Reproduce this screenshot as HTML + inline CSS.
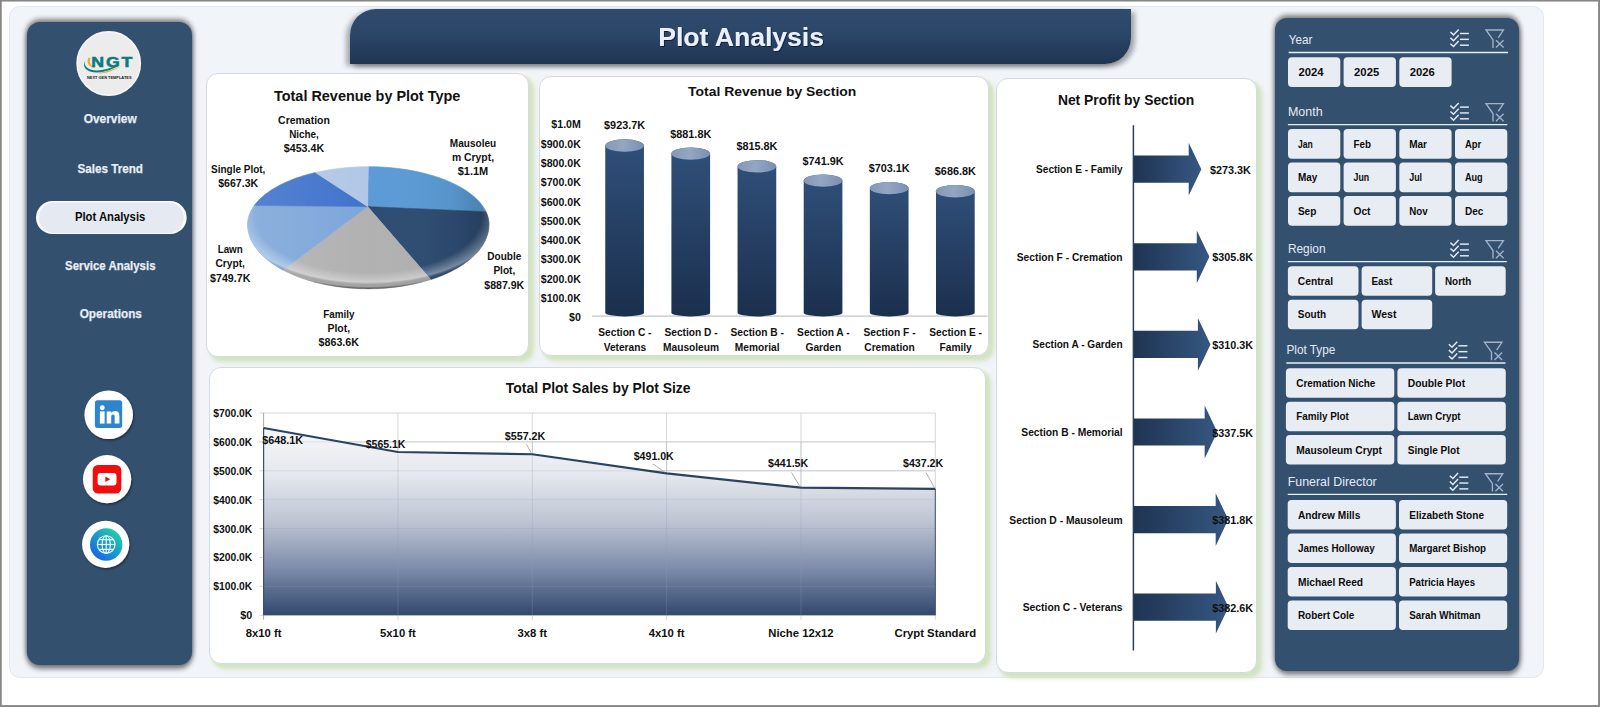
<!DOCTYPE html>
<html lang="en"><head><meta charset="utf-8"><title>Plot Analysis</title>
<style>
html,body{margin:0;padding:0;}
body{width:1600px;height:707px;position:relative;overflow:hidden;background:#fff;font-family:"Liberation Sans", sans-serif;}
div{position:absolute;box-sizing:border-box;}
#wrap{left:9px;top:6px;width:1534.6px;height:672px;background:#f1f4f9;border:1px solid #e3e7ee;border-radius:11px;}
#side{left:26.9px;top:22px;width:164.8px;height:643px;background:#34506f;border-radius:13px;box-shadow:0 4px 5px rgba(0,0,0,.42),0 0 7px rgba(0,0,0,.30),0 -3px 5px rgba(0,0,0,.36);}
#right{left:1275px;top:18.4px;width:244.1px;height:652.2px;background:#34506f;border-radius:12px;box-shadow:1px 4px 5px rgba(0,0,0,.40),0 0 7px rgba(0,0,0,.26),0 -3px 5px rgba(0,0,0,.40);}
#banner{left:349.8px;top:9px;width:781.4px;height:54.8px;border-radius:26px 0 26px 0;background:linear-gradient(#2f4b6e 0%,#2c4668 45%,#1e3452 100%);box-shadow:-4px 2px 5px rgba(0,0,0,.30),4px 3px 5px rgba(0,0,0,.32);}
.card{background:#fff;border:1px solid #d3dae6;border-radius:12px;box-shadow:3.5px 3.5px 3.5px 0px #d2e4bf,6px 6px 5px rgba(210,228,191,.45);}
#c1{left:206.3px;top:73.4px;width:323px;height:283.4px;}
#c2{left:538.8px;top:76.2px;width:449.8px;height:279.8px;}
#c3{left:996.2px;top:78.2px;width:260.6px;height:594.9px;}
#c4{left:209.4px;top:366.6px;width:776.2px;height:297px;}
svg{position:absolute;left:0;top:0;}
text{font-family:"Liberation Sans", sans-serif;}
</style></head>
<body>
<div id="wrap"></div>
<div id="side"></div>
<div id="right"></div>
<div id="banner"></div>
<div class="card" id="c1"></div>
<div class="card" id="c2"></div>
<div class="card" id="c3"></div>
<div class="card" id="c4"></div>
<svg width="1600" height="707" viewBox="0 0 1600 707">

<defs>
 <linearGradient id="gBar" x1="0" y1="0" x2="0" y2="1">
  <stop offset="0" stop-color="#30507a"/><stop offset="1" stop-color="#1b2f4d"/>
 </linearGradient>
 <linearGradient id="gBarTop" x1="0" y1="0" x2="1" y2="0">
  <stop offset="0" stop-color="#8398b6"/><stop offset="0.45" stop-color="#93a7c3"/><stop offset="1" stop-color="#7a90b0"/>
 </linearGradient>
 <linearGradient id="gArrow" x1="0" y1="0" x2="1" y2="0">
  <stop offset="0" stop-color="#1e3452"/><stop offset="1" stop-color="#365781"/>
 </linearGradient>
 <linearGradient id="gArea" gradientUnits="userSpaceOnUse" x1="0" y1="428" x2="0" y2="615.3">
  <stop offset="0" stop-color="#f6f7f9"/><stop offset="0.25" stop-color="#e5e8ee"/>
  <stop offset="0.5" stop-color="#bdc4d3"/><stop offset="0.75" stop-color="#7e8caa"/>
  <stop offset="1" stop-color="#31486d"/>
 </linearGradient>
 <linearGradient id="gPill" x1="0" y1="0" x2="0" y2="1">
  <stop offset="0" stop-color="#f4f6fa"/><stop offset="0.5" stop-color="#e8ecf3"/><stop offset="1" stop-color="#dde3ec"/>
 </linearGradient>
 <linearGradient id="gGlobe" x1="0.85" y1="0.1" x2="0.15" y2="0.9">
  <stop offset="0" stop-color="#22cfa4"/><stop offset="0.5" stop-color="#1a9ad0"/><stop offset="1" stop-color="#1766e2"/>
 </linearGradient>
 <radialGradient id="gPieRim" cx="0.5" cy="0.40" r="0.60" fx="0.5" fy="0.40">
  <stop offset="0" stop-color="#fff" stop-opacity="0"/>
  <stop offset="0.78" stop-color="#fff" stop-opacity="0"/>
  <stop offset="0.91" stop-color="#fff" stop-opacity="0.36"/>
  <stop offset="0.965" stop-color="#000" stop-opacity="0.06"/>
  <stop offset="1" stop-color="#000" stop-opacity="0.55"/>
 </radialGradient>
 <linearGradient id="gPieLR" x1="0" y1="0" x2="1" y2="0">
  <stop offset="0" stop-color="#fff" stop-opacity="0.12"/>
  <stop offset="0.5" stop-color="#fff" stop-opacity="0"/>
  <stop offset="0.85" stop-color="#000" stop-opacity="0.05"/>
  <stop offset="1" stop-color="#000" stop-opacity="0.20"/>
 </linearGradient>
 <filter id="fSoft" x="-30%" y="-30%" width="160%" height="160%">
  <feGaussianBlur stdDeviation="1.6"/>
 </filter>
 <filter id="fPill" x="-5%" y="-20%" width="110%" height="140%"><feGaussianBlur stdDeviation="0.7"/></filter>
 <filter id="fIcon" x="-30%" y="-30%" width="160%" height="160%">
  <feDropShadow dx="1" dy="1.5" stdDeviation="1.2" flood-color="#000" flood-opacity="0.45"/>
 </filter>
 <filter id="fTitle" x="-10%" y="-30%" width="120%" height="160%">
  <feDropShadow dx="0.8" dy="1" stdDeviation="0.7" flood-color="#0a1626" flood-opacity="0.9"/>
 </filter>
</defs>

<circle cx="108.7" cy="63.5" r="31.6" fill="#ececec" stroke="#f6f6f6" stroke-width="1.6"/>
<path d="M85.5 60.5 C83 66 88 70.5 97 70.5 C105 70.5 112 66.8 120 65.6 C113 68.6 106 72.6 97 72.6 C86 72.6 81.5 66.5 85.5 60.5 Z" fill="#0f7d80"/>
<path d="M88.8 57.5 C85.5 62.5 89 67.6 96 68 C91 66.6 88.3 62.5 90.6 58.2 Z" fill="#e9a93a"/>
<path d="M99 72.6 C107 72.3 113 68.5 121.5 66.2 C114 69.4 108 73.6 99 73.4 Z" fill="#e9a93a"/>
<text x="91.30" y="66.50" font-size="15.30" font-weight="bold" text-anchor="start" fill="#0f7a7c" textLength="43.00" lengthAdjust="spacingAndGlyphs" letter-spacing="1.6" stroke="#0f7a7c" stroke-width="0.55">NGT</text>
<text x="87.00" y="78.80" font-size="3.10" font-weight="bold" text-anchor="start" fill="#1a1a1a" textLength="44.50" lengthAdjust="spacingAndGlyphs" >NEXT GEN TEMPLATES</text>
<rect x="36" y="201.1" width="150.7" height="33" rx="16.5" fill="#fafbfd"/>
<rect x="39.0" y="202.5" width="144.7" height="30.6" rx="15.3" fill="#e4e9f2" filter="url(#fPill)"/>
<text x="83.70" y="123.30" font-size="12.80" font-weight="bold" text-anchor="start" fill="#e7edf5" textLength="53.00" lengthAdjust="spacingAndGlyphs" stroke="#e7edf5" stroke-width="0.25">Overview</text>
<text x="77.50" y="172.80" font-size="12.80" font-weight="bold" text-anchor="start" fill="#e7edf5" textLength="65.50" lengthAdjust="spacingAndGlyphs" stroke="#e7edf5" stroke-width="0.25">Sales Trend</text>
<text x="74.90" y="220.80" font-size="12.80" font-weight="bold" text-anchor="start" fill="#0a0a0a" textLength="70.40" lengthAdjust="spacingAndGlyphs" >Plot Analysis</text>
<text x="65.00" y="269.70" font-size="12.80" font-weight="bold" text-anchor="start" fill="#e7edf5" textLength="90.50" lengthAdjust="spacingAndGlyphs" stroke="#e7edf5" stroke-width="0.25">Service Analysis</text>
<text x="79.70" y="318.20" font-size="12.80" font-weight="bold" text-anchor="start" fill="#e7edf5" textLength="62.20" lengthAdjust="spacingAndGlyphs" stroke="#e7edf5" stroke-width="0.25">Operations</text>
<circle cx="108.7" cy="414.7" r="24.3" fill="#fff" filter="url(#fIcon)"/>
<rect x="94.9" y="400.3" width="27.3" height="27.6" rx="2.6" fill="#2d86cd"/>
<circle cx="102.25" cy="407.8" r="2.45" fill="#fff"/>
<rect x="99.9" y="411.4" width="4.7" height="12.2" fill="#fff"/>
<path d="M106.7 411.4 h4.5 v1.7 c0.9 -1.4 2.3 -2.1 4 -2.1 c2.9 0 4.2 1.8 4.2 5 v7.6 h-4.7 v-6.7 c0 -1.5 -0.5 -2.3 -1.7 -2.3 c-1.2 0 -1.8 0.9 -1.8 2.3 v6.7 h-4.5 z" fill="#fff"/>
<circle cx="107.1" cy="479.2" r="24.1" fill="#fff" filter="url(#fIcon)"/>
<rect x="92.7" y="465" width="28.6" height="28.4" rx="5.2" fill="#f20c0c"/>
<rect x="97.6" y="473" width="18.9" height="12.4" rx="3.2" fill="#fff"/>
<path d="M105.3 476.4 L110.2 479.2 L105.3 482 Z" fill="#e01010"/>
<circle cx="105.7" cy="544.3" r="23.6" fill="#fff" filter="url(#fIcon)"/>
<circle cx="106.2" cy="544.5" r="16.2" fill="url(#gGlobe)"/>
<g fill="none" stroke="#e9fbff" stroke-width="1.15"><circle cx="106.2" cy="544.5" r="8.8"/><ellipse cx="106.2" cy="544.5" rx="4.1" ry="8.8"/><line x1="106.2" y1="535.7" x2="106.2" y2="553.3"/><line x1="97.4" y1="544.5" x2="115" y2="544.5"/><path d="M99.0 539.6 H113.4 M99.0 549.4 H113.4"/></g>
<text x="658.20" y="46.30" font-size="26.40" font-weight="bold" text-anchor="start" fill="#e9f0fb" textLength="165.80" lengthAdjust="spacingAndGlyphs" filter="url(#fTitle)">Plot Analysis</text>
<text x="274.00" y="100.80" font-size="13.80" font-weight="bold" text-anchor="start" fill="#111" textLength="186.30" lengthAdjust="spacingAndGlyphs" >Total Revenue by Plot Type</text>
<g>
<path d="M367.60 206.60 L368.30 166.70 L372.58 166.74 L376.85 166.85 L381.12 167.03 L385.36 167.28 L389.59 167.61 L393.79 168.00 L397.95 168.47 L402.08 169.01 L406.17 169.62 L410.21 170.30 L414.19 171.04 L418.12 171.85 L421.99 172.73 L425.79 173.68 L429.51 174.68 L433.16 175.75 L436.73 176.89 L440.21 178.08 L443.60 179.33 L446.90 180.63 L450.10 182.00 L453.19 183.41 L456.18 184.88 L459.06 186.40 L461.82 187.96 L464.47 189.57 L466.99 191.23 L469.39 192.92 L471.67 194.66 L473.81 196.43 L475.82 198.24 L477.70 200.08 L479.44 201.95 L481.04 203.86 L482.50 205.78 L483.81 207.73 L484.98 209.70 L486.00 211.69 Z" fill="#5b9bd6" stroke="#5b9bd6" stroke-width="0.6" stroke-linejoin="round"/>
<path d="M367.60 206.60 L486.00 211.69 L486.88 213.71 L487.61 215.75 L488.18 217.79 L488.61 219.85 L488.88 221.91 L488.99 223.97 L488.96 226.21 L488.77 228.51 L488.42 230.80 L487.92 233.08 L487.27 235.35 L486.47 237.61 L485.52 239.86 L484.42 242.08 L483.17 244.28 L481.77 246.45 L480.23 248.60 L478.55 250.72 L476.72 252.80 L474.76 254.85 L472.66 256.86 L470.43 258.82 L468.07 260.75 L465.58 262.62 L462.97 264.45 L460.23 266.23 L457.38 267.95 L454.42 269.62 L451.35 271.23 L448.17 272.79 L444.88 274.28 L441.51 275.70 L438.03 277.06 L434.47 278.36 L430.83 279.59 Z" fill="#2e4c72" stroke="#2e4c72" stroke-width="0.6" stroke-linejoin="round"/>
<path d="M367.60 206.60 L430.83 279.59 L427.17 280.72 L423.45 281.78 L419.66 282.78 L415.81 283.70 L411.90 284.55 L407.93 285.33 L403.92 286.03 L399.86 286.66 L395.76 287.21 L391.64 287.68 L387.48 288.08 L383.30 288.40 L379.10 288.64 L374.88 288.80 L370.66 288.89 L366.44 288.89 L362.22 288.82 L358.00 288.67 L353.80 288.43 L349.62 288.12 L345.45 287.74 L341.32 287.27 L337.22 286.73 L333.16 286.11 L329.14 285.42 L325.17 284.65 L321.25 283.81 L317.39 282.89 L313.59 281.90 L309.86 280.85 L306.20 279.72 L302.62 278.53 L299.11 277.27 L295.70 275.95 L292.37 274.56 L289.13 273.11 L285.99 271.60 L282.95 270.04 Z" fill="#b1b1b1" stroke="#b1b1b1" stroke-width="0.6" stroke-linejoin="round"/>
<path d="M367.60 206.60 L282.95 270.04 L280.02 268.42 L277.19 266.74 L274.47 265.01 L271.87 263.23 L269.39 261.41 L267.03 259.54 L264.79 257.63 L262.68 255.67 L260.70 253.68 L258.85 251.65 L257.14 249.59 L255.56 247.50 L254.12 245.38 L252.82 243.23 L251.66 241.07 L250.65 238.88 L249.78 236.67 L249.05 234.45 L248.47 232.22 L248.04 229.97 L247.75 227.72 L247.61 225.47 L247.62 223.35 L247.78 221.32 L248.09 219.31 L248.54 217.29 L249.14 215.29 L249.89 213.30 L250.78 211.32 L251.82 209.36 L252.99 207.41 L254.31 205.49 Z" fill="#7da6d9" stroke="#7da6d9" stroke-width="0.6" stroke-linejoin="round"/>
<path d="M367.60 206.60 L254.31 205.49 L255.80 203.56 L257.42 201.66 L259.19 199.79 L261.09 197.95 L263.13 196.14 L265.30 194.37 L267.60 192.64 L270.03 190.94 L272.58 189.29 L275.25 187.69 L278.04 186.13 L280.95 184.61 L283.96 183.15 L287.08 181.74 L290.31 180.39 L293.63 179.09 L297.04 177.85 L300.55 176.66 L304.14 175.54 L307.82 174.48 L311.57 173.48 L315.39 172.55 Z" fill="#4073cb" stroke="#4073cb" stroke-width="0.6" stroke-linejoin="round"/>
<path d="M367.60 206.60 L315.39 172.55 L319.21 171.70 L323.08 170.91 L327.02 170.19 L331.00 169.53 L335.03 168.94 L339.10 168.42 L343.21 167.96 L347.34 167.58 L351.50 167.26 L355.68 167.02 L359.88 166.84 L364.09 166.74 L368.30 166.70 Z" fill="#b2c7e6" stroke="#b2c7e6" stroke-width="0.6" stroke-linejoin="round"/>
<path d="M368.30 166.70 L372.51 166.74 L376.72 166.84 L380.92 167.02 L385.10 167.26 L389.26 167.58 L393.39 167.96 L397.50 168.42 L401.57 168.94 L405.60 169.53 L409.58 170.19 L413.52 170.91 L417.39 171.70 L421.21 172.55 L424.97 173.47 L428.65 174.44 L432.26 175.48 L435.79 176.58 L439.25 177.74 L442.61 178.95 L445.88 180.22 L449.06 181.55 L452.15 182.92 L455.12 184.35 L458.00 185.82 L460.76 187.35 L463.41 188.91 L465.95 190.53 L468.36 192.18 L470.66 193.87 L472.83 195.60 L474.87 197.36 L476.78 199.16 L478.56 200.99 L480.21 202.85 L481.72 204.73 L483.09 206.64 L484.32 208.57 L485.41 210.52 L486.36 212.48 L487.17 214.46 L487.83 216.46 L488.34 218.46 L488.71 220.47 L488.93 222.48 L489.00 224.50 L488.93 226.75 L488.71 228.99 L488.34 231.23 L487.83 233.46 L487.17 235.68 L486.36 237.89 L485.41 240.08 L484.32 242.25 L483.09 244.40 L481.72 246.53 L480.21 248.62 L478.56 250.69 L476.78 252.73 L474.87 254.73 L472.83 256.70 L470.66 258.63 L468.36 260.51 L465.95 262.35 L463.41 264.15 L460.76 265.90 L458.00 267.59 L455.12 269.24 L452.15 270.83 L449.06 272.36 L445.88 273.83 L442.61 275.25 L439.25 276.60 L435.79 277.89 L432.26 279.11 L428.65 280.27 L424.97 281.36 L421.21 282.38 L417.39 283.33 L413.52 284.21 L409.58 285.02 L405.60 285.75 L401.57 286.41 L397.50 286.99 L393.39 287.49 L389.26 287.92 L385.10 288.27 L380.92 288.55 L376.72 288.74 L372.51 288.86 L368.30 288.90 L364.09 288.86 L359.88 288.74 L355.68 288.55 L351.50 288.27 L347.34 287.92 L343.21 287.49 L339.10 286.99 L335.03 286.41 L331.00 285.75 L327.02 285.02 L323.08 284.21 L319.21 283.33 L315.39 282.38 L311.63 281.36 L307.95 280.27 L304.34 279.11 L300.81 277.89 L297.35 276.60 L293.99 275.25 L290.72 273.83 L287.54 272.36 L284.45 270.83 L281.48 269.24 L278.60 267.59 L275.84 265.90 L273.19 264.15 L270.65 262.35 L268.24 260.51 L265.94 258.63 L263.77 256.70 L261.73 254.73 L259.82 252.73 L258.04 250.69 L256.39 248.62 L254.88 246.53 L253.51 244.40 L252.28 242.25 L251.19 240.08 L250.24 237.89 L249.43 235.68 L248.77 233.46 L248.26 231.23 L247.89 228.99 L247.67 226.75 L247.60 224.50 L247.67 222.48 L247.89 220.47 L248.26 218.46 L248.77 216.46 L249.43 214.46 L250.24 212.48 L251.19 210.52 L252.28 208.57 L253.51 206.64 L254.88 204.73 L256.39 202.85 L258.04 200.99 L259.82 199.16 L261.73 197.36 L263.77 195.60 L265.94 193.87 L268.24 192.18 L270.65 190.53 L273.19 188.91 L275.84 187.35 L278.60 185.82 L281.48 184.35 L284.45 182.92 L287.54 181.55 L290.72 180.22 L293.99 178.95 L297.35 177.74 L300.81 176.58 L304.34 175.48 L307.95 174.44 L311.63 173.47 L315.39 172.55 L319.21 171.70 L323.08 170.91 L327.02 170.19 L331.00 169.53 L335.03 168.94 L339.10 168.42 L343.21 167.96 L347.34 167.58 L351.50 167.26 L355.68 167.02 L359.88 166.84 L364.09 166.74 L368.30 166.70 Z" fill="url(#gPieLR)"/>
<path d="M368.30 166.70 L372.51 166.74 L376.72 166.84 L380.92 167.02 L385.10 167.26 L389.26 167.58 L393.39 167.96 L397.50 168.42 L401.57 168.94 L405.60 169.53 L409.58 170.19 L413.52 170.91 L417.39 171.70 L421.21 172.55 L424.97 173.47 L428.65 174.44 L432.26 175.48 L435.79 176.58 L439.25 177.74 L442.61 178.95 L445.88 180.22 L449.06 181.55 L452.15 182.92 L455.12 184.35 L458.00 185.82 L460.76 187.35 L463.41 188.91 L465.95 190.53 L468.36 192.18 L470.66 193.87 L472.83 195.60 L474.87 197.36 L476.78 199.16 L478.56 200.99 L480.21 202.85 L481.72 204.73 L483.09 206.64 L484.32 208.57 L485.41 210.52 L486.36 212.48 L487.17 214.46 L487.83 216.46 L488.34 218.46 L488.71 220.47 L488.93 222.48 L489.00 224.50 L488.93 226.75 L488.71 228.99 L488.34 231.23 L487.83 233.46 L487.17 235.68 L486.36 237.89 L485.41 240.08 L484.32 242.25 L483.09 244.40 L481.72 246.53 L480.21 248.62 L478.56 250.69 L476.78 252.73 L474.87 254.73 L472.83 256.70 L470.66 258.63 L468.36 260.51 L465.95 262.35 L463.41 264.15 L460.76 265.90 L458.00 267.59 L455.12 269.24 L452.15 270.83 L449.06 272.36 L445.88 273.83 L442.61 275.25 L439.25 276.60 L435.79 277.89 L432.26 279.11 L428.65 280.27 L424.97 281.36 L421.21 282.38 L417.39 283.33 L413.52 284.21 L409.58 285.02 L405.60 285.75 L401.57 286.41 L397.50 286.99 L393.39 287.49 L389.26 287.92 L385.10 288.27 L380.92 288.55 L376.72 288.74 L372.51 288.86 L368.30 288.90 L364.09 288.86 L359.88 288.74 L355.68 288.55 L351.50 288.27 L347.34 287.92 L343.21 287.49 L339.10 286.99 L335.03 286.41 L331.00 285.75 L327.02 285.02 L323.08 284.21 L319.21 283.33 L315.39 282.38 L311.63 281.36 L307.95 280.27 L304.34 279.11 L300.81 277.89 L297.35 276.60 L293.99 275.25 L290.72 273.83 L287.54 272.36 L284.45 270.83 L281.48 269.24 L278.60 267.59 L275.84 265.90 L273.19 264.15 L270.65 262.35 L268.24 260.51 L265.94 258.63 L263.77 256.70 L261.73 254.73 L259.82 252.73 L258.04 250.69 L256.39 248.62 L254.88 246.53 L253.51 244.40 L252.28 242.25 L251.19 240.08 L250.24 237.89 L249.43 235.68 L248.77 233.46 L248.26 231.23 L247.89 228.99 L247.67 226.75 L247.60 224.50 L247.67 222.48 L247.89 220.47 L248.26 218.46 L248.77 216.46 L249.43 214.46 L250.24 212.48 L251.19 210.52 L252.28 208.57 L253.51 206.64 L254.88 204.73 L256.39 202.85 L258.04 200.99 L259.82 199.16 L261.73 197.36 L263.77 195.60 L265.94 193.87 L268.24 192.18 L270.65 190.53 L273.19 188.91 L275.84 187.35 L278.60 185.82 L281.48 184.35 L284.45 182.92 L287.54 181.55 L290.72 180.22 L293.99 178.95 L297.35 177.74 L300.81 176.58 L304.34 175.48 L307.95 174.44 L311.63 173.47 L315.39 172.55 L319.21 171.70 L323.08 170.91 L327.02 170.19 L331.00 169.53 L335.03 168.94 L339.10 168.42 L343.21 167.96 L347.34 167.58 L351.50 167.26 L355.68 167.02 L359.88 166.84 L364.09 166.74 L368.30 166.70 Z" fill="url(#gPieRim)"/>
</g>
<text x="278.10" y="124.20" font-size="10.70" font-weight="bold" text-anchor="start" fill="#111" textLength="51.80" lengthAdjust="spacingAndGlyphs" >Cremation</text>
<text x="289.15" y="138.40" font-size="10.70" font-weight="bold" text-anchor="start" fill="#111" textLength="29.70" lengthAdjust="spacingAndGlyphs" >Niche,</text>
<text x="283.80" y="152.40" font-size="10.70" font-weight="bold" text-anchor="start" fill="#111" textLength="40.40" lengthAdjust="spacingAndGlyphs" >$453.4K</text>
<text x="211.00" y="173.00" font-size="10.70" font-weight="bold" text-anchor="start" fill="#111" textLength="54.40" lengthAdjust="spacingAndGlyphs" >Single Plot,</text>
<text x="218.25" y="186.90" font-size="10.70" font-weight="bold" text-anchor="start" fill="#111" textLength="39.90" lengthAdjust="spacingAndGlyphs" >$667.3K</text>
<text x="449.85" y="146.50" font-size="10.70" font-weight="bold" text-anchor="start" fill="#111" textLength="46.30" lengthAdjust="spacingAndGlyphs" >Mausoleu</text>
<text x="451.95" y="161.00" font-size="10.70" font-weight="bold" text-anchor="start" fill="#111" textLength="42.10" lengthAdjust="spacingAndGlyphs" >m Crypt,</text>
<text x="457.70" y="175.20" font-size="10.70" font-weight="bold" text-anchor="start" fill="#111" textLength="30.60" lengthAdjust="spacingAndGlyphs" >$1.1M</text>
<text x="217.65" y="253.00" font-size="10.70" font-weight="bold" text-anchor="start" fill="#111" textLength="25.10" lengthAdjust="spacingAndGlyphs" >Lawn</text>
<text x="215.45" y="267.20" font-size="10.70" font-weight="bold" text-anchor="start" fill="#111" textLength="29.50" lengthAdjust="spacingAndGlyphs" >Crypt,</text>
<text x="210.00" y="281.60" font-size="10.70" font-weight="bold" text-anchor="start" fill="#111" textLength="40.40" lengthAdjust="spacingAndGlyphs" >$749.7K</text>
<text x="487.30" y="260.20" font-size="10.70" font-weight="bold" text-anchor="start" fill="#111" textLength="34.00" lengthAdjust="spacingAndGlyphs" >Double</text>
<text x="493.40" y="274.20" font-size="10.70" font-weight="bold" text-anchor="start" fill="#111" textLength="21.80" lengthAdjust="spacingAndGlyphs" >Plot,</text>
<text x="484.35" y="288.60" font-size="10.70" font-weight="bold" text-anchor="start" fill="#111" textLength="39.90" lengthAdjust="spacingAndGlyphs" >$887.9K</text>
<text x="323.20" y="317.50" font-size="10.70" font-weight="bold" text-anchor="start" fill="#111" textLength="31.20" lengthAdjust="spacingAndGlyphs" >Family</text>
<text x="327.50" y="331.60" font-size="10.70" font-weight="bold" text-anchor="start" fill="#111" textLength="22.60" lengthAdjust="spacingAndGlyphs" >Plot,</text>
<text x="318.60" y="346.00" font-size="10.70" font-weight="bold" text-anchor="start" fill="#111" textLength="40.40" lengthAdjust="spacingAndGlyphs" >$863.6K</text>
<text x="688.10" y="96.30" font-size="13.60" font-weight="bold" text-anchor="start" fill="#111" textLength="168.20" lengthAdjust="spacingAndGlyphs" >Total Revenue  by Section</text>
<text x="580.80" y="128.30" font-size="10.60" font-weight="bold" text-anchor="end" fill="#111" >$1.0M</text>
<text x="580.80" y="147.60" font-size="10.60" font-weight="bold" text-anchor="end" fill="#111" >$900.0K</text>
<text x="580.80" y="166.90" font-size="10.60" font-weight="bold" text-anchor="end" fill="#111" >$800.0K</text>
<text x="580.80" y="186.20" font-size="10.60" font-weight="bold" text-anchor="end" fill="#111" >$700.0K</text>
<text x="580.80" y="205.50" font-size="10.60" font-weight="bold" text-anchor="end" fill="#111" >$600.0K</text>
<text x="580.80" y="224.80" font-size="10.60" font-weight="bold" text-anchor="end" fill="#111" >$500.0K</text>
<text x="580.80" y="244.10" font-size="10.60" font-weight="bold" text-anchor="end" fill="#111" >$400.0K</text>
<text x="580.80" y="263.40" font-size="10.60" font-weight="bold" text-anchor="end" fill="#111" >$300.0K</text>
<text x="580.80" y="282.70" font-size="10.60" font-weight="bold" text-anchor="end" fill="#111" >$200.0K</text>
<text x="580.80" y="302.00" font-size="10.60" font-weight="bold" text-anchor="end" fill="#111" >$100.0K</text>
<text x="580.80" y="321.30" font-size="10.60" font-weight="bold" text-anchor="end" fill="#111" >$0</text>
<line x1="592.00" y1="316.20" x2="987.60" y2="316.20" stroke="#c4c4c4" stroke-width="1.20" />
<path d="M605.25 145.53 L605.25 312.80 A19.35 3.60 0 0 0 643.95 312.80 L643.95 145.53 A19.35 6.20 0 0 0 605.25 145.53 Z" fill="url(#gBar)"/>
<ellipse cx="624.60" cy="145.53" rx="19.35" ry="6.20" fill="url(#gBarTop)"/>
<text x="624.60" y="129.43" font-size="10.85" font-weight="bold" text-anchor="middle" fill="#111" >$923.7K</text>
<text x="624.90" y="336.00" font-size="10.20" font-weight="bold" text-anchor="middle" fill="#111" >Section C -</text>
<text x="624.90" y="351.30" font-size="10.20" font-weight="bold" text-anchor="middle" fill="#111" >Veterans</text>
<path d="M671.40 153.61 L671.40 312.80 A19.35 3.60 0 0 0 710.10 312.80 L710.10 153.61 A19.35 6.20 0 0 0 671.40 153.61 Z" fill="url(#gBar)"/>
<ellipse cx="690.75" cy="153.61" rx="19.35" ry="6.20" fill="url(#gBarTop)"/>
<text x="690.75" y="137.51" font-size="10.85" font-weight="bold" text-anchor="middle" fill="#111" >$881.8K</text>
<text x="691.05" y="336.00" font-size="10.20" font-weight="bold" text-anchor="middle" fill="#111" >Section D -</text>
<text x="691.05" y="351.30" font-size="10.20" font-weight="bold" text-anchor="middle" fill="#111" >Mausoleum</text>
<path d="M737.55 166.35 L737.55 312.80 A19.35 3.60 0 0 0 776.25 312.80 L776.25 166.35 A19.35 6.20 0 0 0 737.55 166.35 Z" fill="url(#gBar)"/>
<ellipse cx="756.90" cy="166.35" rx="19.35" ry="6.20" fill="url(#gBarTop)"/>
<text x="756.90" y="150.25" font-size="10.85" font-weight="bold" text-anchor="middle" fill="#111" >$815.8K</text>
<text x="757.20" y="336.00" font-size="10.20" font-weight="bold" text-anchor="middle" fill="#111" >Section B -</text>
<text x="757.20" y="351.30" font-size="10.20" font-weight="bold" text-anchor="middle" fill="#111" >Memorial</text>
<path d="M803.70 180.61 L803.70 312.80 A19.35 3.60 0 0 0 842.40 312.80 L842.40 180.61 A19.35 6.20 0 0 0 803.70 180.61 Z" fill="url(#gBar)"/>
<ellipse cx="823.05" cy="180.61" rx="19.35" ry="6.20" fill="url(#gBarTop)"/>
<text x="823.05" y="164.51" font-size="10.85" font-weight="bold" text-anchor="middle" fill="#111" >$741.9K</text>
<text x="823.35" y="336.00" font-size="10.20" font-weight="bold" text-anchor="middle" fill="#111" >Section A -</text>
<text x="823.35" y="351.30" font-size="10.20" font-weight="bold" text-anchor="middle" fill="#111" >Garden</text>
<path d="M869.85 188.10 L869.85 312.80 A19.35 3.60 0 0 0 908.55 312.80 L908.55 188.10 A19.35 6.20 0 0 0 869.85 188.10 Z" fill="url(#gBar)"/>
<ellipse cx="889.20" cy="188.10" rx="19.35" ry="6.20" fill="url(#gBarTop)"/>
<text x="889.20" y="172.00" font-size="10.85" font-weight="bold" text-anchor="middle" fill="#111" >$703.1K</text>
<text x="889.50" y="336.00" font-size="10.20" font-weight="bold" text-anchor="middle" fill="#111" >Section F -</text>
<text x="889.50" y="351.30" font-size="10.20" font-weight="bold" text-anchor="middle" fill="#111" >Cremation</text>
<path d="M936.00 191.25 L936.00 312.80 A19.35 3.60 0 0 0 974.70 312.80 L974.70 191.25 A19.35 6.20 0 0 0 936.00 191.25 Z" fill="url(#gBar)"/>
<ellipse cx="955.35" cy="191.25" rx="19.35" ry="6.20" fill="url(#gBarTop)"/>
<text x="955.35" y="175.15" font-size="10.85" font-weight="bold" text-anchor="middle" fill="#111" >$686.8K</text>
<text x="955.65" y="336.00" font-size="10.20" font-weight="bold" text-anchor="middle" fill="#111" >Section E -</text>
<text x="955.65" y="351.30" font-size="10.20" font-weight="bold" text-anchor="middle" fill="#111" >Family</text>
<text x="1057.90" y="104.70" font-size="13.80" font-weight="bold" text-anchor="start" fill="#111" textLength="136.30" lengthAdjust="spacingAndGlyphs" >Net Profit by Section</text>
<path d="M1133.40 155.60 L1188.72 155.60 L1188.72 142.80 L1201.32 169.20 L1188.72 195.60 L1188.72 182.80 L1133.40 182.80 Z" fill="url(#gArrow)"/>
<text x="1036.10" y="173.10" font-size="10.30" font-weight="bold" text-anchor="start" fill="#111" textLength="86.50" lengthAdjust="spacingAndGlyphs" >Section E - Family</text>
<text x="1210.00" y="173.80" font-size="10.80" font-weight="bold" text-anchor="start" fill="#111" >$273.3K</text>
<path d="M1133.40 243.20 L1196.79 243.20 L1196.79 230.40 L1209.39 256.80 L1196.79 283.20 L1196.79 270.40 L1133.40 270.40 Z" fill="url(#gArrow)"/>
<text x="1016.80" y="260.70" font-size="10.30" font-weight="bold" text-anchor="start" fill="#111" textLength="105.80" lengthAdjust="spacingAndGlyphs" >Section F - Cremation</text>
<text x="1212.20" y="261.40" font-size="10.80" font-weight="bold" text-anchor="start" fill="#111" >$305.8K</text>
<path d="M1133.40 330.80 L1197.91 330.80 L1197.91 318.00 L1210.51 344.40 L1197.91 370.80 L1197.91 358.00 L1133.40 358.00 Z" fill="url(#gArrow)"/>
<text x="1032.60" y="348.30" font-size="10.30" font-weight="bold" text-anchor="start" fill="#111" textLength="90.00" lengthAdjust="spacingAndGlyphs" >Section A - Garden</text>
<text x="1212.20" y="349.00" font-size="10.80" font-weight="bold" text-anchor="start" fill="#111" >$310.3K</text>
<path d="M1133.40 418.40 L1204.67 418.40 L1204.67 405.60 L1217.27 432.00 L1204.67 458.40 L1204.67 445.60 L1133.40 445.60 Z" fill="url(#gArrow)"/>
<text x="1021.30" y="435.90" font-size="10.30" font-weight="bold" text-anchor="start" fill="#111" textLength="101.30" lengthAdjust="spacingAndGlyphs" >Section B - Memorial</text>
<text x="1212.20" y="436.60" font-size="10.80" font-weight="bold" text-anchor="start" fill="#111" >$337.5K</text>
<path d="M1133.40 506.00 L1215.68 506.00 L1215.68 493.20 L1228.28 519.60 L1215.68 546.00 L1215.68 533.20 L1133.40 533.20 Z" fill="url(#gArrow)"/>
<text x="1009.30" y="523.50" font-size="10.30" font-weight="bold" text-anchor="start" fill="#111" textLength="113.30" lengthAdjust="spacingAndGlyphs" >Section D - Mausoleum</text>
<text x="1212.20" y="524.20" font-size="10.80" font-weight="bold" text-anchor="start" fill="#111" >$381.8K</text>
<path d="M1133.40 593.60 L1215.88 593.60 L1215.88 580.80 L1228.48 607.20 L1215.88 633.60 L1215.88 620.80 L1133.40 620.80 Z" fill="url(#gArrow)"/>
<text x="1022.70" y="611.10" font-size="10.30" font-weight="bold" text-anchor="start" fill="#111" textLength="99.90" lengthAdjust="spacingAndGlyphs" >Section C - Veterans</text>
<text x="1212.20" y="611.80" font-size="10.80" font-weight="bold" text-anchor="start" fill="#111" >$382.6K</text>
<line x1="1133.40" y1="125.30" x2="1133.40" y2="650.50" stroke="#2a3f5c" stroke-width="1.50" />
<text x="505.80" y="392.70" font-size="13.80" font-weight="bold" text-anchor="start" fill="#111" textLength="184.80" lengthAdjust="spacingAndGlyphs" >Total Plot Sales by Plot Size</text>
<line x1="259.40" y1="615.30" x2="935.30" y2="615.30" stroke="#d6d6d6" stroke-width="1.00" />
<line x1="259.40" y1="586.40" x2="935.30" y2="586.40" stroke="#d6d6d6" stroke-width="1.00" />
<line x1="259.40" y1="557.50" x2="935.30" y2="557.50" stroke="#d6d6d6" stroke-width="1.00" />
<line x1="259.40" y1="528.60" x2="935.30" y2="528.60" stroke="#d6d6d6" stroke-width="1.00" />
<line x1="259.40" y1="499.70" x2="935.30" y2="499.70" stroke="#d6d6d6" stroke-width="1.00" />
<line x1="259.40" y1="470.80" x2="935.30" y2="470.80" stroke="#d6d6d6" stroke-width="1.00" />
<line x1="259.40" y1="441.90" x2="935.30" y2="441.90" stroke="#d6d6d6" stroke-width="1.00" />
<line x1="259.40" y1="413.00" x2="935.30" y2="413.00" stroke="#d6d6d6" stroke-width="1.00" />
<line x1="263.60" y1="413.00" x2="263.60" y2="619.70" stroke="#a8a8a8" stroke-width="1.00" />
<line x1="397.94" y1="413.00" x2="397.94" y2="619.70" stroke="#d6d6d6" stroke-width="1.00" />
<line x1="532.28" y1="413.00" x2="532.28" y2="619.70" stroke="#d6d6d6" stroke-width="1.00" />
<line x1="666.62" y1="413.00" x2="666.62" y2="619.70" stroke="#d6d6d6" stroke-width="1.00" />
<line x1="800.96" y1="413.00" x2="800.96" y2="619.70" stroke="#d6d6d6" stroke-width="1.00" />
<line x1="935.30" y1="413.00" x2="935.30" y2="619.70" stroke="#d6d6d6" stroke-width="1.00" />
<path d="M263.60 428.00 L397.94 451.99 L532.28 454.27 L666.62 473.40 L800.96 487.71 L935.30 488.95 L935.30 615.30 L263.60 615.30 Z" fill="url(#gArea)"/>
<line x1="263.60" y1="586.40" x2="935.30" y2="586.40" stroke="#8f9bb3" stroke-width="0.80" opacity="0.28"/>
<line x1="263.60" y1="557.50" x2="935.30" y2="557.50" stroke="#8f9bb3" stroke-width="0.80" opacity="0.28"/>
<line x1="263.60" y1="528.60" x2="935.30" y2="528.60" stroke="#8f9bb3" stroke-width="0.80" opacity="0.28"/>
<line x1="263.60" y1="499.70" x2="935.30" y2="499.70" stroke="#8f9bb3" stroke-width="0.80" opacity="0.28"/>
<line x1="263.60" y1="470.80" x2="935.30" y2="470.80" stroke="#8f9bb3" stroke-width="0.80" opacity="0.28"/>
<line x1="263.60" y1="441.90" x2="935.30" y2="441.90" stroke="#8f9bb3" stroke-width="0.80" opacity="0.28"/>
<line x1="397.94" y1="441.90" x2="397.94" y2="615.30" stroke="#8f9bb3" stroke-width="0.80" opacity="0.35"/>
<line x1="532.28" y1="441.90" x2="532.28" y2="615.30" stroke="#8f9bb3" stroke-width="0.80" opacity="0.35"/>
<line x1="666.62" y1="441.90" x2="666.62" y2="615.30" stroke="#8f9bb3" stroke-width="0.80" opacity="0.35"/>
<line x1="800.96" y1="441.90" x2="800.96" y2="615.30" stroke="#8f9bb3" stroke-width="0.80" opacity="0.35"/>
<line x1="263.60" y1="428.00" x2="263.60" y2="615.30" stroke="#3b4f72" stroke-width="1.20" />
<line x1="935.30" y1="488.95" x2="935.30" y2="615.30" stroke="#3b4f72" stroke-width="1.00" />
<polyline points="263.60,428.00 397.94,451.99 532.28,454.27 666.62,473.40 800.96,487.71 935.30,488.95" fill="none" stroke="#2c4360" stroke-width="2.2" stroke-linejoin="round"/>
<text x="213.20" y="416.90" font-size="10.80" font-weight="bold" text-anchor="start" fill="#111" textLength="39.00" lengthAdjust="spacingAndGlyphs" >$700.0K</text>
<text x="213.20" y="445.80" font-size="10.80" font-weight="bold" text-anchor="start" fill="#111" textLength="39.00" lengthAdjust="spacingAndGlyphs" >$600.0K</text>
<text x="213.20" y="474.70" font-size="10.80" font-weight="bold" text-anchor="start" fill="#111" textLength="39.00" lengthAdjust="spacingAndGlyphs" >$500.0K</text>
<text x="213.20" y="503.60" font-size="10.80" font-weight="bold" text-anchor="start" fill="#111" textLength="39.00" lengthAdjust="spacingAndGlyphs" >$400.0K</text>
<text x="213.20" y="532.50" font-size="10.80" font-weight="bold" text-anchor="start" fill="#111" textLength="39.00" lengthAdjust="spacingAndGlyphs" >$300.0K</text>
<text x="213.20" y="561.40" font-size="10.80" font-weight="bold" text-anchor="start" fill="#111" textLength="39.00" lengthAdjust="spacingAndGlyphs" >$200.0K</text>
<text x="213.20" y="590.30" font-size="10.80" font-weight="bold" text-anchor="start" fill="#111" textLength="39.00" lengthAdjust="spacingAndGlyphs" >$100.0K</text>
<text x="252.20" y="619.20" font-size="10.80" font-weight="bold" text-anchor="end" fill="#111" >$0</text>
<text x="262.20" y="443.70" font-size="10.70" font-weight="bold" text-anchor="start" fill="#111" textLength="40.80" lengthAdjust="spacingAndGlyphs" >$648.1K</text>
<text x="365.70" y="448.30" font-size="10.70" font-weight="bold" text-anchor="start" fill="#111" textLength="39.80" lengthAdjust="spacingAndGlyphs" >$565.1K</text>
<text x="504.80" y="439.50" font-size="10.70" font-weight="bold" text-anchor="start" fill="#111" textLength="40.50" lengthAdjust="spacingAndGlyphs" >$557.2K</text>
<text x="633.70" y="459.50" font-size="10.70" font-weight="bold" text-anchor="start" fill="#111" textLength="40.10" lengthAdjust="spacingAndGlyphs" >$491.0K</text>
<text x="768.00" y="467.20" font-size="10.70" font-weight="bold" text-anchor="start" fill="#111" textLength="40.20" lengthAdjust="spacingAndGlyphs" >$441.5K</text>
<text x="903.00" y="467.20" font-size="10.70" font-weight="bold" text-anchor="start" fill="#111" textLength="40.20" lengthAdjust="spacingAndGlyphs" >$437.2K</text>
<line x1="526.50" y1="444.50" x2="531.20" y2="452.60" stroke="#a6a6a6" stroke-width="0.90" />
<line x1="653.00" y1="464.00" x2="664.80" y2="472.20" stroke="#a6a6a6" stroke-width="0.90" />
<line x1="791.50" y1="472.50" x2="800.00" y2="486.80" stroke="#a6a6a6" stroke-width="0.90" />
<line x1="926.00" y1="472.50" x2="934.60" y2="488.00" stroke="#a6a6a6" stroke-width="0.90" />
<text x="263.60" y="636.80" font-size="11.30" font-weight="bold" text-anchor="middle" fill="#111" >8x10 ft</text>
<text x="397.94" y="636.80" font-size="11.30" font-weight="bold" text-anchor="middle" fill="#111" >5x10 ft</text>
<text x="532.28" y="636.80" font-size="11.30" font-weight="bold" text-anchor="middle" fill="#111" >3x8 ft</text>
<text x="666.62" y="636.80" font-size="11.30" font-weight="bold" text-anchor="middle" fill="#111" >4x10 ft</text>
<text x="800.96" y="636.80" font-size="11.30" font-weight="bold" text-anchor="middle" fill="#111" >Niche 12x12</text>
<text x="935.30" y="636.80" font-size="11.30" font-weight="bold" text-anchor="middle" fill="#111" >Crypt Standard</text>
<text x="1288.80" y="43.80" font-size="12.60" font-weight="normal" text-anchor="start" fill="#e3ebf5" textLength="23.60" lengthAdjust="spacingAndGlyphs" >Year</text>
<line x1="1288.60" y1="52.50" x2="1508.00" y2="52.50" stroke="#e6eef8" stroke-width="1.30" />
<g transform="translate(0.00 0.00)" fill="none" stroke-linecap="butt"><g stroke="#e3ebf5" stroke-width="1.45"><path d="M1450.4 32.00 L1453.5 34.90 L1458.7 29.40"/><path d="M1459.9 33.50 H1468.9"/><path d="M1450.4 37.85 L1453.5 40.75 L1458.7 35.25"/><path d="M1459.9 39.35 H1468.9"/><path d="M1450.4 43.70 L1453.5 46.60 L1458.7 41.10"/><path d="M1459.9 45.20 H1468.9"/></g><g stroke="#a3b3c8" stroke-width="1.35"><path d="M1498.2 37.8 L1503.4 30.0 H1486.0 L1493.0 39.9 V47.9"/><path d="M1496.0 40.2 L1503.6 47.6 M1503.6 40.2 L1496.0 47.6"/></g></g>
<rect x="1288.00" y="57.30" width="52.30" height="29.70" rx="4.00" fill="#e8ecf3" />
<text x="1298.50" y="76.00" font-size="10.50" font-weight="bold" text-anchor="start" fill="#0c0c0c" textLength="25.10" lengthAdjust="spacingAndGlyphs" >2024</text>
<rect x="1343.60" y="57.30" width="52.30" height="29.70" rx="4.00" fill="#e8ecf3" />
<text x="1354.10" y="76.00" font-size="10.50" font-weight="bold" text-anchor="start" fill="#0c0c0c" textLength="25.10" lengthAdjust="spacingAndGlyphs" >2025</text>
<rect x="1399.30" y="57.30" width="52.30" height="29.70" rx="4.00" fill="#e8ecf3" />
<text x="1409.80" y="76.00" font-size="10.50" font-weight="bold" text-anchor="start" fill="#0c0c0c" textLength="25.10" lengthAdjust="spacingAndGlyphs" >2026</text>
<text x="1287.90" y="115.80" font-size="12.60" font-weight="normal" text-anchor="start" fill="#e3ebf5" textLength="34.70" lengthAdjust="spacingAndGlyphs" >Month</text>
<line x1="1287.90" y1="124.70" x2="1507.30" y2="124.70" stroke="#e6eef8" stroke-width="1.30" />
<g transform="translate(0.00 73.60)" fill="none" stroke-linecap="butt"><g stroke="#e3ebf5" stroke-width="1.45"><path d="M1450.4 32.00 L1453.5 34.90 L1458.7 29.40"/><path d="M1459.9 33.50 H1468.9"/><path d="M1450.4 37.85 L1453.5 40.75 L1458.7 35.25"/><path d="M1459.9 39.35 H1468.9"/><path d="M1450.4 43.70 L1453.5 46.60 L1458.7 41.10"/><path d="M1459.9 45.20 H1468.9"/></g><g stroke="#a3b3c8" stroke-width="1.35"><path d="M1498.2 37.8 L1503.4 30.0 H1486.0 L1493.0 39.9 V47.9"/><path d="M1496.0 40.2 L1503.6 47.6 M1503.6 40.2 L1496.0 47.6"/></g></g>
<rect x="1288.00" y="129.10" width="52.30" height="29.70" rx="4.00" fill="#e8ecf3" />
<text x="1297.90" y="147.80" font-size="10.50" font-weight="bold" text-anchor="start" fill="#0c0c0c" textLength="14.70" lengthAdjust="spacingAndGlyphs" >Jan</text>
<rect x="1343.60" y="129.10" width="52.30" height="29.70" rx="4.00" fill="#e8ecf3" />
<text x="1353.50" y="147.80" font-size="10.50" font-weight="bold" text-anchor="start" fill="#0c0c0c" textLength="17.40" lengthAdjust="spacingAndGlyphs" >Feb</text>
<rect x="1399.30" y="129.10" width="52.30" height="29.70" rx="4.00" fill="#e8ecf3" />
<text x="1409.20" y="147.80" font-size="10.50" font-weight="bold" text-anchor="start" fill="#0c0c0c" textLength="17.80" lengthAdjust="spacingAndGlyphs" >Mar</text>
<rect x="1455.00" y="129.10" width="52.30" height="29.70" rx="4.00" fill="#e8ecf3" />
<text x="1464.90" y="147.80" font-size="10.50" font-weight="bold" text-anchor="start" fill="#0c0c0c" textLength="16.20" lengthAdjust="spacingAndGlyphs" >Apr</text>
<rect x="1288.00" y="162.55" width="52.30" height="29.70" rx="4.00" fill="#e8ecf3" />
<text x="1297.90" y="181.25" font-size="10.50" font-weight="bold" text-anchor="start" fill="#0c0c0c" textLength="19.40" lengthAdjust="spacingAndGlyphs" >May</text>
<rect x="1343.60" y="162.55" width="52.30" height="29.70" rx="4.00" fill="#e8ecf3" />
<text x="1353.50" y="181.25" font-size="10.50" font-weight="bold" text-anchor="start" fill="#0c0c0c" textLength="15.60" lengthAdjust="spacingAndGlyphs" >Jun</text>
<rect x="1399.30" y="162.55" width="52.30" height="29.70" rx="4.00" fill="#e8ecf3" />
<text x="1409.20" y="181.25" font-size="10.50" font-weight="bold" text-anchor="start" fill="#0c0c0c" textLength="12.90" lengthAdjust="spacingAndGlyphs" >Jul</text>
<rect x="1455.00" y="162.55" width="52.30" height="29.70" rx="4.00" fill="#e8ecf3" />
<text x="1464.90" y="181.25" font-size="10.50" font-weight="bold" text-anchor="start" fill="#0c0c0c" textLength="17.80" lengthAdjust="spacingAndGlyphs" >Aug</text>
<rect x="1288.00" y="196.00" width="52.30" height="29.70" rx="4.00" fill="#e8ecf3" />
<text x="1297.90" y="214.70" font-size="10.50" font-weight="bold" text-anchor="start" fill="#0c0c0c" textLength="18.40" lengthAdjust="spacingAndGlyphs" >Sep</text>
<rect x="1343.60" y="196.00" width="52.30" height="29.70" rx="4.00" fill="#e8ecf3" />
<text x="1353.50" y="214.70" font-size="10.50" font-weight="bold" text-anchor="start" fill="#0c0c0c" textLength="17.00" lengthAdjust="spacingAndGlyphs" >Oct</text>
<rect x="1399.30" y="196.00" width="52.30" height="29.70" rx="4.00" fill="#e8ecf3" />
<text x="1409.20" y="214.70" font-size="10.50" font-weight="bold" text-anchor="start" fill="#0c0c0c" textLength="18.40" lengthAdjust="spacingAndGlyphs" >Nov</text>
<rect x="1455.00" y="196.00" width="52.30" height="29.70" rx="4.00" fill="#e8ecf3" />
<text x="1464.90" y="214.70" font-size="10.50" font-weight="bold" text-anchor="start" fill="#0c0c0c" textLength="18.40" lengthAdjust="spacingAndGlyphs" >Dec</text>
<text x="1287.90" y="252.80" font-size="12.60" font-weight="normal" text-anchor="start" fill="#e3ebf5" textLength="37.70" lengthAdjust="spacingAndGlyphs" >Region</text>
<line x1="1287.90" y1="261.70" x2="1506.80" y2="261.70" stroke="#e6eef8" stroke-width="1.30" />
<g transform="translate(0.00 210.60)" fill="none" stroke-linecap="butt"><g stroke="#e3ebf5" stroke-width="1.45"><path d="M1450.4 32.00 L1453.5 34.90 L1458.7 29.40"/><path d="M1459.9 33.50 H1468.9"/><path d="M1450.4 37.85 L1453.5 40.75 L1458.7 35.25"/><path d="M1459.9 39.35 H1468.9"/><path d="M1450.4 43.70 L1453.5 46.60 L1458.7 41.10"/><path d="M1459.9 45.20 H1468.9"/></g><g stroke="#a3b3c8" stroke-width="1.35"><path d="M1498.2 37.8 L1503.4 30.0 H1486.0 L1493.0 39.9 V47.9"/><path d="M1496.0 40.2 L1503.6 47.6 M1503.6 40.2 L1496.0 47.6"/></g></g>
<rect x="1287.90" y="266.20" width="70.60" height="29.60" rx="4.00" fill="#e8ecf3" />
<text x="1297.80" y="284.90" font-size="10.50" font-weight="bold" text-anchor="start" fill="#0c0c0c" textLength="35.30" lengthAdjust="spacingAndGlyphs" >Central</text>
<rect x="1361.60" y="266.20" width="70.60" height="29.60" rx="4.00" fill="#e8ecf3" />
<text x="1371.50" y="284.90" font-size="10.50" font-weight="bold" text-anchor="start" fill="#0c0c0c" textLength="20.80" lengthAdjust="spacingAndGlyphs" >East</text>
<rect x="1435.10" y="266.20" width="70.60" height="29.60" rx="4.00" fill="#e8ecf3" />
<text x="1445.00" y="284.90" font-size="10.50" font-weight="bold" text-anchor="start" fill="#0c0c0c" textLength="26.30" lengthAdjust="spacingAndGlyphs" >North</text>
<rect x="1287.90" y="299.65" width="70.60" height="29.60" rx="4.00" fill="#e8ecf3" />
<text x="1297.80" y="318.35" font-size="10.50" font-weight="bold" text-anchor="start" fill="#0c0c0c" textLength="28.30" lengthAdjust="spacingAndGlyphs" >South</text>
<rect x="1361.60" y="299.65" width="70.60" height="29.60" rx="4.00" fill="#e8ecf3" />
<text x="1371.50" y="318.35" font-size="10.50" font-weight="bold" text-anchor="start" fill="#0c0c0c" textLength="25.00" lengthAdjust="spacingAndGlyphs" >West</text>
<text x="1286.40" y="354.40" font-size="12.60" font-weight="normal" text-anchor="start" fill="#e3ebf5" textLength="49.00" lengthAdjust="spacingAndGlyphs" >Plot Type</text>
<line x1="1286.30" y1="363.00" x2="1505.50" y2="363.00" stroke="#e6eef8" stroke-width="1.30" />
<g transform="translate(-1.50 312.30)" fill="none" stroke-linecap="butt"><g stroke="#e3ebf5" stroke-width="1.45"><path d="M1450.4 32.00 L1453.5 34.90 L1458.7 29.40"/><path d="M1459.9 33.50 H1468.9"/><path d="M1450.4 37.85 L1453.5 40.75 L1458.7 35.25"/><path d="M1459.9 39.35 H1468.9"/><path d="M1450.4 43.70 L1453.5 46.60 L1458.7 41.10"/><path d="M1459.9 45.20 H1468.9"/></g><g stroke="#a3b3c8" stroke-width="1.35"><path d="M1498.2 37.8 L1503.4 30.0 H1486.0 L1493.0 39.9 V47.9"/><path d="M1496.0 40.2 L1503.6 47.6 M1503.6 40.2 L1496.0 47.6"/></g></g>
<rect x="1285.90" y="368.30" width="108.40" height="29.50" rx="4.00" fill="#e8ecf3" />
<text x="1296.20" y="387.00" font-size="10.50" font-weight="bold" text-anchor="start" fill="#0c0c0c" textLength="79.20" lengthAdjust="spacingAndGlyphs" >Cremation Niche</text>
<rect x="1397.40" y="368.30" width="108.40" height="29.50" rx="4.00" fill="#e8ecf3" />
<text x="1407.70" y="387.00" font-size="10.50" font-weight="bold" text-anchor="start" fill="#0c0c0c" textLength="57.40" lengthAdjust="spacingAndGlyphs" >Double Plot</text>
<rect x="1285.90" y="401.70" width="108.40" height="29.50" rx="4.00" fill="#e8ecf3" />
<text x="1296.20" y="420.40" font-size="10.50" font-weight="bold" text-anchor="start" fill="#0c0c0c" textLength="52.70" lengthAdjust="spacingAndGlyphs" >Family Plot</text>
<rect x="1397.40" y="401.70" width="108.40" height="29.50" rx="4.00" fill="#e8ecf3" />
<text x="1407.70" y="420.40" font-size="10.50" font-weight="bold" text-anchor="start" fill="#0c0c0c" textLength="52.90" lengthAdjust="spacingAndGlyphs" >Lawn Crypt</text>
<rect x="1285.90" y="435.10" width="108.40" height="29.50" rx="4.00" fill="#e8ecf3" />
<text x="1296.20" y="453.80" font-size="10.50" font-weight="bold" text-anchor="start" fill="#0c0c0c" textLength="85.80" lengthAdjust="spacingAndGlyphs" >Mausoleum Crypt</text>
<rect x="1397.40" y="435.10" width="108.40" height="29.50" rx="4.00" fill="#e8ecf3" />
<text x="1407.70" y="453.80" font-size="10.50" font-weight="bold" text-anchor="start" fill="#0c0c0c" textLength="51.90" lengthAdjust="spacingAndGlyphs" >Single Plot</text>
<text x="1287.70" y="485.50" font-size="12.60" font-weight="normal" text-anchor="start" fill="#e3ebf5" textLength="89.00" lengthAdjust="spacingAndGlyphs" >Funeral Director</text>
<line x1="1287.70" y1="494.40" x2="1507.20" y2="494.40" stroke="#e6eef8" stroke-width="1.30" />
<g transform="translate(-0.60 443.70)" fill="none" stroke-linecap="butt"><g stroke="#e3ebf5" stroke-width="1.45"><path d="M1450.4 32.00 L1453.5 34.90 L1458.7 29.40"/><path d="M1459.9 33.50 H1468.9"/><path d="M1450.4 37.85 L1453.5 40.75 L1458.7 35.25"/><path d="M1459.9 39.35 H1468.9"/><path d="M1450.4 43.70 L1453.5 46.60 L1458.7 41.10"/><path d="M1459.9 45.20 H1468.9"/></g><g stroke="#a3b3c8" stroke-width="1.35"><path d="M1498.2 37.8 L1503.4 30.0 H1486.0 L1493.0 39.9 V47.9"/><path d="M1496.0 40.2 L1503.6 47.6 M1503.6 40.2 L1496.0 47.6"/></g></g>
<rect x="1287.70" y="500.00" width="108.20" height="29.50" rx="4.00" fill="#e8ecf3" />
<text x="1297.90" y="518.70" font-size="10.50" font-weight="bold" text-anchor="start" fill="#0c0c0c" textLength="62.40" lengthAdjust="spacingAndGlyphs" >Andrew Mills</text>
<rect x="1399.00" y="500.00" width="108.20" height="29.50" rx="4.00" fill="#e8ecf3" />
<text x="1409.20" y="518.70" font-size="10.50" font-weight="bold" text-anchor="start" fill="#0c0c0c" textLength="74.80" lengthAdjust="spacingAndGlyphs" >Elizabeth Stone</text>
<rect x="1287.70" y="533.50" width="108.20" height="29.50" rx="4.00" fill="#e8ecf3" />
<text x="1297.90" y="552.20" font-size="10.50" font-weight="bold" text-anchor="start" fill="#0c0c0c" textLength="76.90" lengthAdjust="spacingAndGlyphs" >James Holloway</text>
<rect x="1399.00" y="533.50" width="108.20" height="29.50" rx="4.00" fill="#e8ecf3" />
<text x="1409.20" y="552.20" font-size="10.50" font-weight="bold" text-anchor="start" fill="#0c0c0c" textLength="76.90" lengthAdjust="spacingAndGlyphs" >Margaret Bishop</text>
<rect x="1287.70" y="567.00" width="108.20" height="29.50" rx="4.00" fill="#e8ecf3" />
<text x="1297.90" y="585.70" font-size="10.50" font-weight="bold" text-anchor="start" fill="#0c0c0c" textLength="65.20" lengthAdjust="spacingAndGlyphs" >Michael Reed</text>
<rect x="1399.00" y="567.00" width="108.20" height="29.50" rx="4.00" fill="#e8ecf3" />
<text x="1409.20" y="585.70" font-size="10.50" font-weight="bold" text-anchor="start" fill="#0c0c0c" textLength="65.90" lengthAdjust="spacingAndGlyphs" >Patricia Hayes</text>
<rect x="1287.70" y="600.50" width="108.20" height="29.50" rx="4.00" fill="#e8ecf3" />
<text x="1297.90" y="619.20" font-size="10.50" font-weight="bold" text-anchor="start" fill="#0c0c0c" textLength="56.50" lengthAdjust="spacingAndGlyphs" >Robert Cole</text>
<rect x="1399.00" y="600.50" width="108.20" height="29.50" rx="4.00" fill="#e8ecf3" />
<text x="1409.20" y="619.20" font-size="10.50" font-weight="bold" text-anchor="start" fill="#0c0c0c" textLength="71.30" lengthAdjust="spacingAndGlyphs" >Sarah Whitman</text>
<rect x="0.00" y="0.00" width="1.75" height="707.00" rx="0.00" fill="#878787" />
<rect x="0.00" y="0.00" width="1600.00" height="1.55" rx="0.00" fill="#878787" />
<rect x="1598.10" y="0.00" width="1.90" height="707.00" rx="0.00" fill="#878787" />
<rect x="0.00" y="705.10" width="1600.00" height="1.90" rx="0.00" fill="#878787" />
</svg>
</body></html>
